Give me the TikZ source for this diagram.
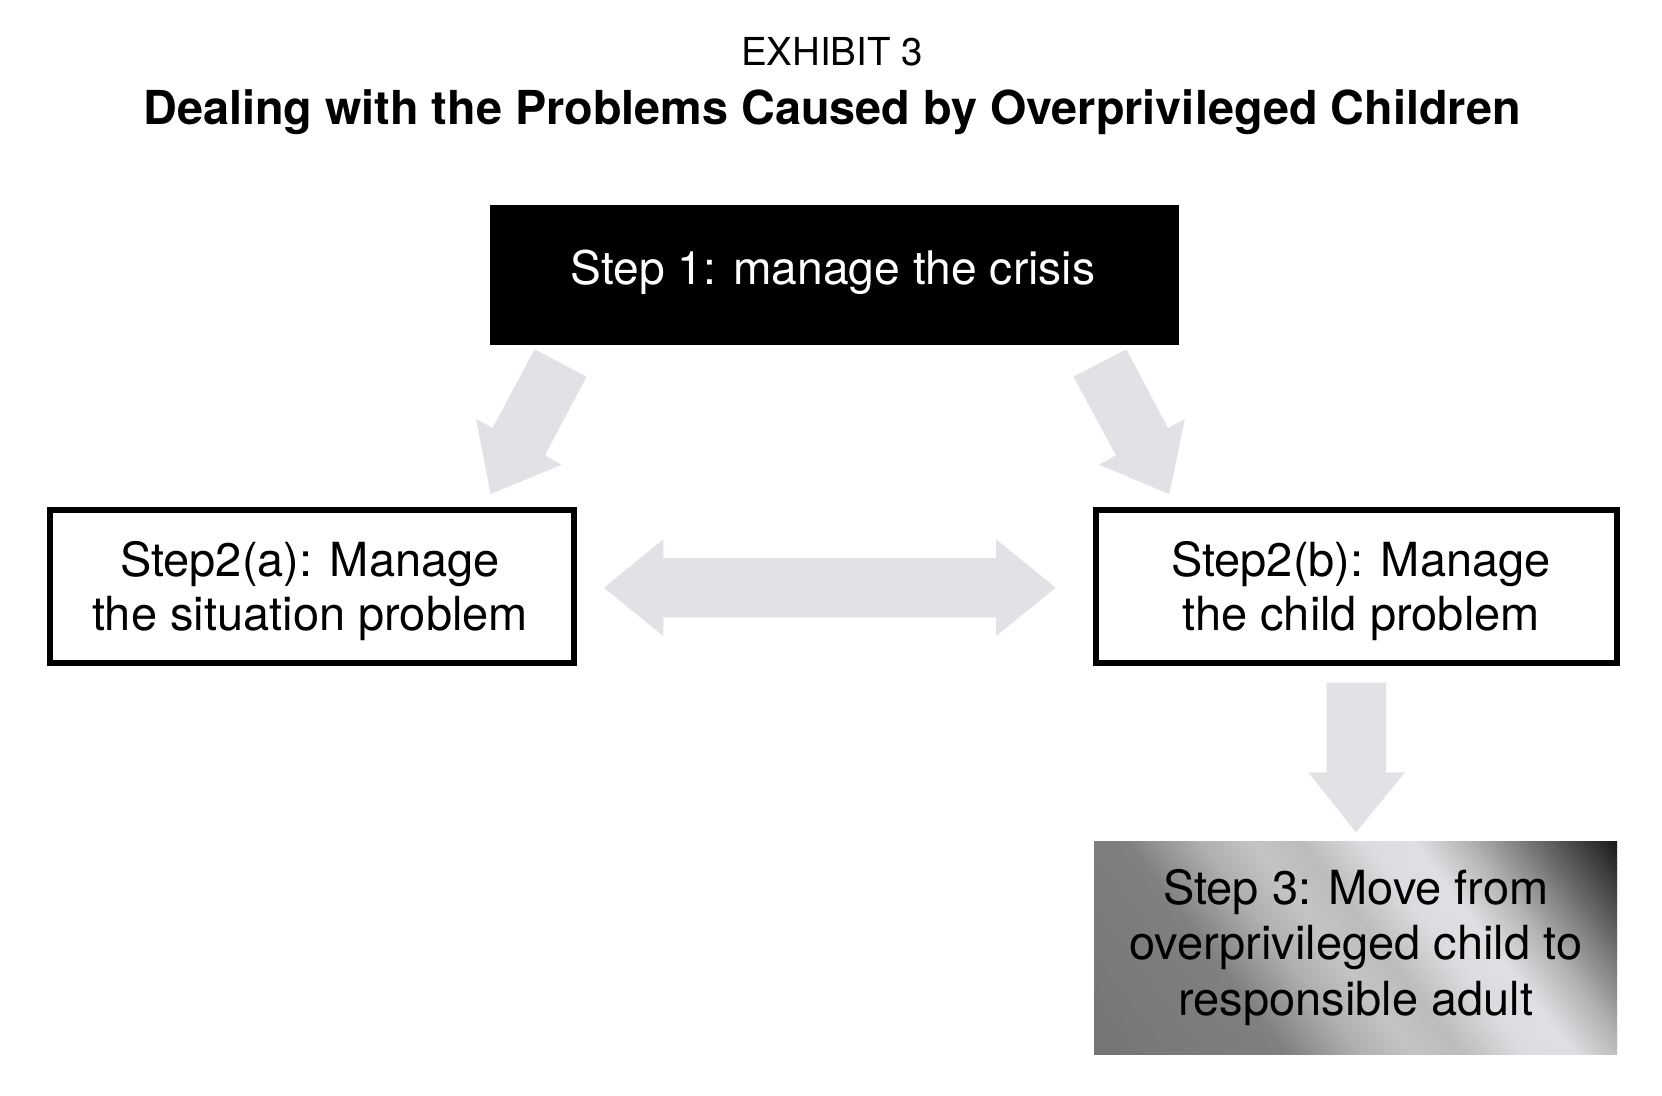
\documentclass[tikz,border=0pt]{standalone}
\usepackage{fontspec}
\setmainfont{TeX Gyre Heros}
\definecolor{arrowgray}{HTML}{E1E2E6}
\definecolor{m0}{HTML}{757575}
\definecolor{m1}{HTML}{808080}
\definecolor{m2}{HTML}{B0B0B0}
\definecolor{m3}{HTML}{C4C4C6}
\definecolor{m4}{HTML}{BCBCBE}
\definecolor{m5}{HTML}{DCDCE0}
\definecolor{m6}{HTML}{E0E0E4}
\definecolor{m7}{HTML}{B8B8BA}
\definecolor{m8}{HTML}{6A6A6A}
\definecolor{m9}{HTML}{151515}
\begin{document}
\begin{tikzpicture}[x=1pt,y=-1pt,
  boxtxt/.style={font=\fontsize{47}{55}\selectfont, anchor=base, inner sep=0pt},
  framebox/.style={draw=black, line width=6pt, fill=white, inner sep=0pt},
  blockarrow/.style={fill=arrowgray, draw=none}]
\useasboundingbox[fill=white] (0,0) rectangle (1662,1095);

% titles
\node[anchor=base, inner sep=0pt, font=\fontsize{38.5}{46}\selectfont] (exh) at (832,65) {EXHIBIT 3};
\node[anchor=base, inner sep=0pt, font=\fontsize{46.8}{54}\selectfont\bfseries] (title) at (832,124) {Dealing with the Problems Caused by Overprivileged Children};

% boxes
\node[fill=black, minimum width=689pt, minimum height=140pt, inner sep=0pt] (s1) at (834.5,275) {};
\node[framebox, minimum width=524pt, minimum height=153pt] (s2a) at (311.5,586.5) {};
\node[framebox, minimum width=521pt, minimum height=153pt] (s2b) at (1356,586.5) {};

% step 3 gradient box
\begin{scope}
\clip (1094,841) rectangle (1617,1054);
\begin{scope}[shift={(1355.5,947.5)}]
\begin{scope}[x=1pt,y=1pt,rotate=37]
\foreach \pa/\pb/\ca/\cb in {-276/-120/m0/m1,-120/-60/m1/m2,-60/-20/m2/m3,-20/20/m3/m4,20/70/m4/m5,70/110/m5/m6,110/150/m6/m7,150/210/m7/m8,210/276/m8/m9}{
  \foreach \k in {0,...,19}{
    \pgfmathsetmacro\pone{\pa+(\pb-\pa)*\k/20}
    \pgfmathsetmacro\ptwo{\pa+(\pb-\pa)*(\k+1)/20+0.8}
    \pgfmathtruncatemacro\t{\k*5+2}
    \fill[fill={\cb!\t!\ca}] (\pone,-400) rectangle (\ptwo,400);
  }
}
\end{scope}
\end{scope}
\end{scope}
\node[minimum width=523pt, minimum height=213pt, inner sep=0pt] (s3) at (1355.5,947.5) {};

% texts
\node[boxtxt, font=\fontsize{46.2}{55}\selectfont, text=white] (s1t) at (833,284) {Step 1: manage the crisis};
\node[boxtxt] (s2a1) at (310,576) {Step2(a): Manage};
\node[boxtxt] (s2a2) at (310,630) {the situation problem};
\node[boxtxt] (s2b1) at (1361,576) {Step2(b): Manage};
\node[boxtxt] (s2b2) at (1361,630) {the child problem};
\node[boxtxt] (s3a) at (1356,904) {Step 3: Move from};
\node[boxtxt] (s3b) at (1356,959) {overprivileged child to};
\node[boxtxt] (s3c) at (1356,1015) {responsible adult};

% block arrows
\fill[blockarrow] (534.6,349.3) -- (586.5,376.7) -- (544.9,455.3) -- (561.5,464.7) -- (490.7,494) -- (476,419) -- (492.6,428) -- cycle;
\fill[blockarrow] (1126.3,349.3) -- (1073.5,376.7) -- (1116,455.3) -- (1099,464.7) -- (1169.3,494) -- (1184.9,419) -- (1167.9,428) -- cycle;
\fill[blockarrow] (604,587.7) -- (663.3,539.3) -- (663.3,558) -- (996,558) -- (996,539.3) -- (1055.7,587.7) -- (996,636) -- (996,617.3) -- (663.3,617.3) -- (663.3,636) -- cycle;
\fill[blockarrow] (1326.7,682.7) -- (1386,682.7) -- (1386,772.3) -- (1405,772.3) -- (1356,832.3) -- (1308.3,772.3) -- (1326.7,772.3) -- cycle;
\end{tikzpicture}
\end{document}
